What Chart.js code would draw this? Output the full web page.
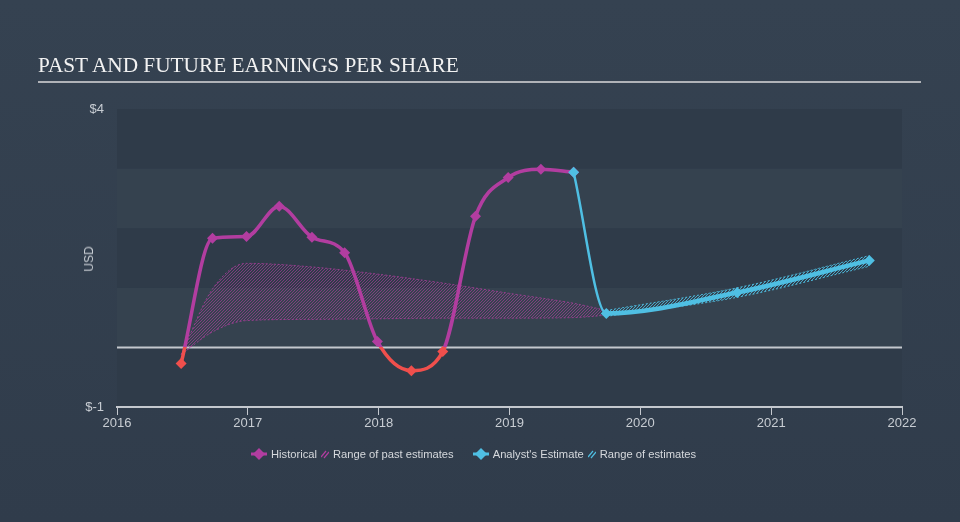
<!DOCTYPE html>
<html>
<head>
<meta charset="utf-8">
<script src="https://cdn.jsdelivr.net/npm/chart.js@4.4.0/dist/chart.umd.min.js"></script>
<style>
  html, body { margin: 0; padding: 0; background: #333f4e; }
  #wrap { position: relative; width: 960px; height: 522px; background: linear-gradient(180deg, #354251 0%, #303c4b 100%); overflow: hidden; }
  #eps_chart { position: absolute; left: 0; top: 0; }
  .title { position: absolute; left: 38px; top: 53px; font-family: "Liberation Serif", "DejaVu Serif", serif; font-size: 21.3px; color: #f2f2f2; white-space: nowrap; }
  .rule { position: absolute; left: 38px; top: 81px; width: 883px; height: 2px; background: #b0b3b8; }
  .ytitle { position: absolute; left: 89px; top: 259px; transform: translate(-50%, -50%) rotate(-90deg); font-family: "Liberation Sans", Arial, sans-serif; font-size: 12px; color: #c8cdd3; }
  .legend { position: absolute; left: 251px; top: 448px; display: flex; align-items: center; font-family: "Liberation Sans", Arial, sans-serif; font-size: 11.2px; color: #d6d9dd; white-space: nowrap; }
  .legend svg { margin-right: 4px; }
  .legend span { margin-right: 4px; }
</style>
</head>
<body>
<div id="wrap">
  <canvas id="eps_chart" width="960" height="522"></canvas>
  <div class="title">PAST AND FUTURE EARNINGS PER SHARE</div>
  <div class="rule"></div>
  <div class="ytitle">USD</div>
  <div class="legend">
    <svg width="16" height="12"><line x1="0" y1="6" x2="16" y2="6" stroke="#b23da0" stroke-width="3"/><polygon points="8,0 14,6 8,12 2,6" fill="#b23da0"/></svg>
    <span>Historical</span>
    <svg width="8" height="10"><line x1="0" y1="8" x2="5" y2="2" stroke="#b23da0" stroke-width="1.2"/><line x1="3" y1="9" x2="8" y2="3" stroke="#b23da0" stroke-width="1.2"/></svg>
    <span style="margin-right:19px">Range of past estimates</span>
    <svg width="16" height="12"><line x1="0" y1="6" x2="16" y2="6" stroke="#4fbfe3" stroke-width="3"/><polygon points="8,0 14,6 8,12 2,6" fill="#4fbfe3"/></svg>
    <span>Analyst's Estimate</span>
    <svg width="8" height="10"><line x1="0" y1="8" x2="5" y2="2" stroke="#4fbfe3" stroke-width="1.2"/><line x1="3" y1="9" x2="8" y2="3" stroke="#4fbfe3" stroke-width="1.2"/></svg>
    <span>Range of estimates</span>
  </div>
</div>
<script>
// historical EPS (fiscal quarters, decimal years)
const histYears = [2016.49, 2016.73, 2016.99, 2017.24, 2017.49, 2017.74, 2017.99, 2018.25, 2018.49, 2018.74, 2018.99, 2019.24, 2019.49];
const histEps = [-0.27, 1.83, 1.86, 2.37, 1.85, 1.59, 0.10, -0.39, -0.07, 2.20, 2.85, 2.99, 2.94];

// range of past estimates
const pastRangeYears = [2016.49, 2016.73, 2016.99, 2017.49, 2017.99, 2018.49, 2018.99, 2019.49, 2019.74];
const pastRangeHigh = [-0.12, 0.98, 1.41, 1.35, 1.23, 1.08, 0.91, 0.74, 0.62];
const pastRangeLow = [-0.12, 0.26, 0.45, 0.47, 0.48, 0.49, 0.49, 0.50, 0.54];

// analyst estimates
const estYears = [2019.49, 2019.74, 2020.74, 2021.75];
const estEps = [2.94, 0.57, 0.92, 1.46];
const estRangeYears = [2019.74, 2020.74, 2021.75];
const estRangeHigh = [0.62, 1.00, 1.54];
const estRangeLow = [0.52, 0.84, 1.36];

const yearTicks = [2016, 2017, 2018, 2019, 2020, 2021, 2022];
const usdTicks = [-1, 4];

const PINK = '#b23da0';
const RED = '#f04f4c';
const BLUE = '#4fbfe3';

const pts = (xs, ys) => xs.map((x, i) => ({ x: x, y: ys[i] }));

function hatch(color) {
    const c = document.createElement('canvas');
    c.width = 3; c.height = 3;
    const g = c.getContext('2d');
    g.strokeStyle = color;
    g.lineWidth = 1;
    g.beginPath();
    g.moveTo(0, 3); g.lineTo(3, 0);
    g.moveTo(-1, 1); g.lineTo(1, -1);
    g.moveTo(2, 4); g.lineTo(4, 2);
    g.stroke();
    return document.getElementById('eps_chart').getContext('2d').createPattern(c, 'repeat');
}

// pink above zero, red below
function splitColor(context) {
    const chart = context.chart;
    const area = chart.chartArea;
    if (!area) return PINK;
    const y0 = chart.scales.y.getPixelForValue(0);
    const stop = Math.min(1, Math.max(0, (y0 - area.top) / (area.bottom - area.top)));
    const grad = chart.ctx.createLinearGradient(0, area.top, 0, area.bottom);
    grad.addColorStop(0, PINK);
    grad.addColorStop(stop, PINK);
    grad.addColorStop(stop, RED);
    grad.addColorStop(1, RED);
    return grad;
}

const bandsPlugin = {
    id: 'bands',
    beforeDraw(chart) {
        const { ctx, chartArea, scales } = chart;
        ctx.save();
        for (let v = -1; v < 4; v++) {
            const top = scales.y.getPixelForValue(v + 1);
            const bottom = scales.y.getPixelForValue(v);
            ctx.fillStyle = (v % 2 === 0) ? '#35424f' : '#2f3b49';
            ctx.fillRect(chartArea.left, top, chartArea.right - chartArea.left, bottom - top);
        }
        ctx.restore();
    },
    beforeDatasetsDraw(chart) {
        const { ctx, chartArea, scales } = chart;
        const y0 = scales.y.getPixelForValue(0);
        ctx.save();
        ctx.strokeStyle = '#c4c8ce';
        ctx.lineWidth = 2;
        ctx.beginPath();
        ctx.moveTo(chartArea.left, y0);
        ctx.lineTo(chartArea.right, y0);
        ctx.stroke();
        ctx.restore();
    }
};

new Chart(document.getElementById('eps_chart'), {
    type: 'line',
    data: {
        datasets: [
            {
                label: 'Past high',
                data: pts(pastRangeYears, pastRangeHigh),
                borderColor: 'rgba(178, 61, 160, 0.75)',
                borderWidth: 1,
                borderDash: [2, 2],
                backgroundColor: hatch('rgba(178, 61, 160, 0.6)'),
                fill: '+1',
                pointRadius: 0,
                cubicInterpolationMode: 'monotone',
                order: 5
            },
            {
                label: 'Past low',
                data: pts(pastRangeYears, pastRangeLow),
                borderColor: 'rgba(178, 61, 160, 0.75)',
                borderWidth: 1,
                borderDash: [2, 2],
                fill: false,
                pointRadius: 0,
                cubicInterpolationMode: 'monotone',
                order: 5
            },
            {
                label: 'Est high',
                data: pts(estRangeYears, estRangeHigh),
                borderColor: 'rgba(79, 191, 227, 0.85)',
                borderWidth: 1,
                borderDash: [2, 2],
                backgroundColor: hatch('rgba(79, 191, 227, 0.8)'),
                fill: '+1',
                pointRadius: 0,
                cubicInterpolationMode: 'monotone',
                order: 4
            },
            {
                label: 'Est low',
                data: pts(estRangeYears, estRangeLow),
                borderColor: 'rgba(79, 191, 227, 0.85)',
                borderWidth: 1,
                borderDash: [2, 2],
                fill: false,
                pointRadius: 0,
                cubicInterpolationMode: 'monotone',
                order: 4
            },
            {
                label: 'Historical',
                data: pts(histYears, histEps),
                borderColor: splitColor,
                borderWidth: 3.5,
                fill: false,
                pointStyle: 'rectRot',
                pointRadius: 5.5,
                pointBorderWidth: 0,
                pointBackgroundColor: histEps.map((v) => v < 0 ? RED : PINK),
                cubicInterpolationMode: 'monotone',
                order: 2
            },
            {
                label: "Analyst's Estimate",
                data: pts(estYears, estEps),
                borderColor: BLUE,
                borderWidth: 4.5,
                segment: {
                    borderWidth: (ctx) => ctx.p0DataIndex === 0 ? 2.5 : 4.5
                },
                fill: false,
                pointStyle: 'rectRot',
                pointRadius: 5.5,
                pointBorderWidth: 0,
                pointBackgroundColor: BLUE,
                cubicInterpolationMode: 'monotone',
                order: 1
            }
        ]
    },
    options: {
        responsive: false,
        animation: false,
        layout: { padding: { left: 0, top: 109, right: 58, bottom: 0 } },
        plugins: {
            legend: { display: false },
            tooltip: { enabled: false }
        },
        scales: {
            x: {
                type: 'linear',
                min: 2016,
                max: 2022,
                afterFit: (s) => { s.height = 115; },
                afterBuildTicks: (s) => { s.ticks = yearTicks.map((v) => ({ value: v })); },
                ticks: {
                    color: '#c8cdd3',
                    font: { family: 'Liberation Sans', size: 13 },
                    padding: 1,
                    maxRotation: 0,
                    autoSkip: false,
                    callback: (v) => String(v)
                },
                grid: { drawOnChartArea: false, drawTicks: true, tickLength: 8, color: '#c4c8ce', lineWidth: 1 },
                border: { display: true, color: '#c4c8ce', width: 2 }
            },
            y: {
                min: -1,
                max: 4,
                afterFit: (s) => { s.width = 117; },
                afterBuildTicks: (s) => { s.ticks = usdTicks.map((v) => ({ value: v })); },
                ticks: {
                    color: '#c8cdd3',
                    font: { family: 'Liberation Sans', size: 13 },
                    padding: 13,
                    callback: (v) => '$' + v
                },
                grid: { display: false, drawTicks: false },
                border: { display: false }
            }
        }
    },
    plugins: [bandsPlugin]
});
</script>
</body>
</html>
